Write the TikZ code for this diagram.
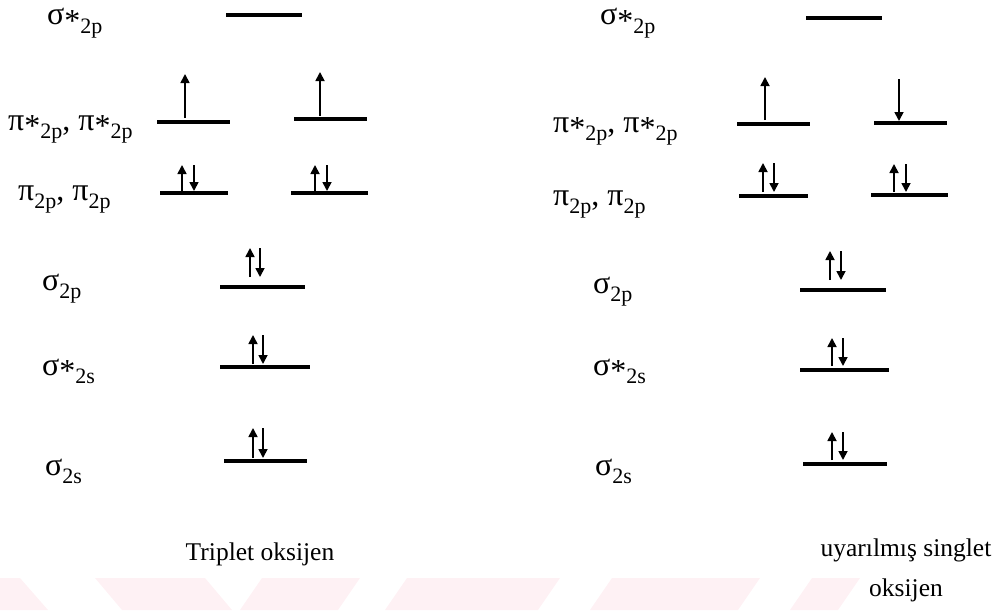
\documentclass[tikz,border=0pt]{standalone}
\usepackage{fontspec}
\setmainfont{Liberation Serif}
\usetikzlibrary{arrows.meta}
\newcommand\osub[1]{\raisebox{-0.26em}{\fontsize{22}{22}\selectfont #1}}
\newcommand\ost{\raisebox{-0.2em}{*}}
\definecolor{wmpink}{RGB}{254,241,244}
\begin{document}
\begin{tikzpicture}[x=1pt,y=-1pt,
  level/.style={line width=3.2pt},
  spin/.style={line width=1.7pt,-{Triangle[length=9pt,width=9pt]}},
  lab/.style={anchor=base west,inner sep=0pt,font=\fontsize{32}{32}\selectfont},
  captext/.style={anchor=base,inner sep=0pt,align=center,font=\fontsize{25.5}{40}\selectfont},
  wm/.style={fill=wmpink,draw=none}]
\useasboundingbox (0,0) rectangle (1003,610);
% watermark band
\fill[wm] (0,578) -- (20,578) -- (48,610) -- (0,610) -- cycle;
\fill[wm] (95,578) -- (205,578) -- (232,610) -- (122,610) -- cycle;
\fill[wm] (240,610) -- (262,578) -- (360,578) -- (338,610) -- cycle;
\fill[wm] (385,610) -- (407,578) -- (560,578) -- (538,610) -- cycle;
\fill[wm] (590,610) -- (612,578) -- (760,578) -- (738,610) -- cycle;
\fill[wm] (790,610) -- (812,578) -- (860,578) -- (838,610) -- cycle;

% ---------- left: triplet ----------
\node[lab] (Ls2ps) at (47,25) {σ\ost\osub{2p}};
\node[lab] (Lp2ps) at (8,130) {π\ost\osub{2p}, π\ost\osub{2p}};
\node[lab] (Lp2p) at (18,200) {π\osub{2p}, π\osub{2p}};
\node[lab] (Ls2p) at (42,290) {σ\osub{2p}};
\node[lab] (Ls2ss) at (42,375) {σ\ost\osub{2s}};
\node[lab] (Ls2s) at (45,475) {σ\osub{2s}};

\coordinate (L1a) at (226,15); \coordinate (L1b) at (302,15);
\draw[level] (L1a) -- (L1b);
\coordinate (L2a) at (157,122); \coordinate (L2b) at (230,122);
\coordinate (L3a) at (294,119); \coordinate (L3b) at (367,119);
\draw[level] (L2a) -- (L2b); \draw[level] (L3a) -- (L3b);
\coordinate (L2u0) at (185,118); \coordinate (L2u1) at (185,74);
\draw[spin] (L2u0) -- (L2u1);
\coordinate (L3u0) at (320,116); \coordinate (L3u1) at (320,72);
\draw[spin] (L3u0) -- (L3u1);
\coordinate (L4a) at (160,193); \coordinate (L4b) at (228,193);
\coordinate (L5a) at (291,193); \coordinate (L5b) at (368,193);
\draw[level] (L4a) -- (L4b); \draw[level] (L5a) -- (L5b);
\coordinate (L4u0) at (182,191); \coordinate (L4u1) at (182,165);
\coordinate (L4d0) at (194,165); \coordinate (L4d1) at (194,191);
\draw[spin] (L4u0) -- (L4u1); \draw[spin] (L4d0) -- (L4d1);
\coordinate (L5u0) at (315,191); \coordinate (L5u1) at (315,165);
\coordinate (L5d0) at (327,165); \coordinate (L5d1) at (327,191);
\draw[spin] (L5u0) -- (L5u1); \draw[spin] (L5d0) -- (L5d1);
\coordinate (L6a) at (220,287); \coordinate (L6b) at (305,287);
\draw[level] (L6a) -- (L6b);
\coordinate (L6u0) at (250,277); \coordinate (L6u1) at (250,248);
\coordinate (L6d0) at (260,248); \coordinate (L6d1) at (260,277);
\draw[spin] (L6u0) -- (L6u1); \draw[spin] (L6d0) -- (L6d1);
\coordinate (L7a) at (220,367); \coordinate (L7b) at (310,367);
\draw[level] (L7a) -- (L7b);
\coordinate (L7u0) at (253,364); \coordinate (L7u1) at (253,335);
\coordinate (L7d0) at (263,335); \coordinate (L7d1) at (263,364);
\draw[spin] (L7u0) -- (L7u1); \draw[spin] (L7d0) -- (L7d1);
\coordinate (L8a) at (224,461); \coordinate (L8b) at (307,461);
\draw[level] (L8a) -- (L8b);
\coordinate (L8u0) at (253,458); \coordinate (L8u1) at (253,428);
\coordinate (L8d0) at (263,428); \coordinate (L8d1) at (263,458);
\draw[spin] (L8u0) -- (L8u1); \draw[spin] (L8d0) -- (L8d1);

\node[captext] (Lcap) at (260,560) {Triplet oksijen};

% ---------- right: singlet ----------
\node[lab] (Rs2ps) at (600,25) {σ\ost\osub{2p}};
\node[lab] (Rp2ps) at (553,132) {π\ost\osub{2p}, π\ost\osub{2p}};
\node[lab] (Rp2p) at (553,205) {π\osub{2p}, π\osub{2p}};
\node[lab] (Rs2p) at (593,293) {σ\osub{2p}};
\node[lab] (Rs2ss) at (593,375) {σ\ost\osub{2s}};
\node[lab] (Rs2s) at (595,475) {σ\osub{2s}};

\coordinate (R1a) at (806,18); \coordinate (R1b) at (882,18);
\draw[level] (R1a) -- (R1b);
\coordinate (R2a) at (737,124); \coordinate (R2b) at (810,124);
\coordinate (R3a) at (874,123); \coordinate (R3b) at (947,123);
\draw[level] (R2a) -- (R2b); \draw[level] (R3a) -- (R3b);
\coordinate (R2u0) at (765,120); \coordinate (R2u1) at (765,77);
\draw[spin] (R2u0) -- (R2u1);
\coordinate (R3d0) at (899,79); \coordinate (R3d1) at (899,121);
\draw[spin] (R3d0) -- (R3d1);
\coordinate (R4a) at (739,196); \coordinate (R4b) at (808,196);
\coordinate (R5a) at (871,195); \coordinate (R5b) at (948,195);
\draw[level] (R4a) -- (R4b); \draw[level] (R5a) -- (R5b);
\coordinate (R4u0) at (763,192); \coordinate (R4u1) at (763,163);
\coordinate (R4d0) at (774,163); \coordinate (R4d1) at (774,192);
\draw[spin] (R4u0) -- (R4u1); \draw[spin] (R4d0) -- (R4d1);
\coordinate (R5u0) at (894,192); \coordinate (R5u1) at (894,164);
\coordinate (R5d0) at (906,164); \coordinate (R5d1) at (906,192);
\draw[spin] (R5u0) -- (R5u1); \draw[spin] (R5d0) -- (R5d1);
\coordinate (R6a) at (800,290); \coordinate (R6b) at (886,290);
\draw[level] (R6a) -- (R6b);
\coordinate (R6u0) at (830,280); \coordinate (R6u1) at (830,251);
\coordinate (R6d0) at (841,251); \coordinate (R6d1) at (841,280);
\draw[spin] (R6u0) -- (R6u1); \draw[spin] (R6d0) -- (R6d1);
\coordinate (R7a) at (800,370); \coordinate (R7b) at (889,370);
\draw[level] (R7a) -- (R7b);
\coordinate (R7u0) at (832,366); \coordinate (R7u1) at (832,338);
\coordinate (R7d0) at (843,338); \coordinate (R7d1) at (843,366);
\draw[spin] (R7u0) -- (R7u1); \draw[spin] (R7d0) -- (R7d1);
\coordinate (R8a) at (803,464); \coordinate (R8b) at (887,464);
\draw[level] (R8a) -- (R8b);
\coordinate (R8u0) at (832,460); \coordinate (R8u1) at (832,432);
\coordinate (R8d0) at (843,432); \coordinate (R8d1) at (843,460);
\draw[spin] (R8u0) -- (R8u1); \draw[spin] (R8d0) -- (R8d1);

\node[captext] (Rcap) at (906,596) {uyarılmış singlet\\oksijen};
\end{tikzpicture}
\end{document}
